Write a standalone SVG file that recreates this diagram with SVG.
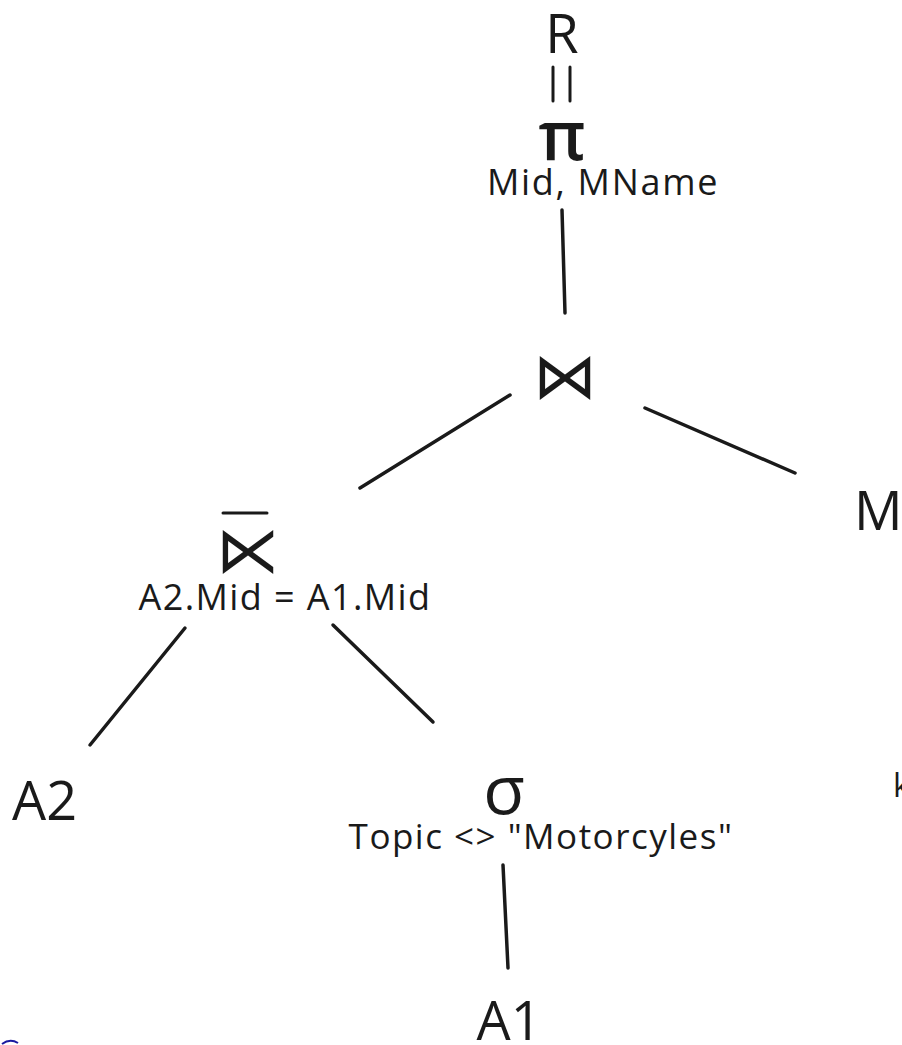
<svg xmlns="http://www.w3.org/2000/svg" width="902" height="1045" viewBox="0 0 902 1045">
<style>
.big{font-family:"Open Sans","Noto Sans",sans-serif;font-size:54px;fill:#1a1a1a}
.lbl{font-family:"Open Sans","Noto Sans",sans-serif;font-size:36px;letter-spacing:1.5px;fill:#1a1a1a}
.sym{font-family:"DejaVu Sans",sans-serif;font-size:64px;fill:#1a1a1a}
.edge{stroke:#1a1a1a;stroke-width:3.5;stroke-linecap:round;fill:none}
</style>
<rect width="902" height="1045" fill="#ffffff"/>
<g id="connectors">
<line class="edge" x1="553" y1="67" x2="553" y2="101" style="stroke-width:3"/>
<line class="edge" x1="570" y1="67" x2="570" y2="101" style="stroke-width:3"/>
<line class="edge" x1="562" y1="210" x2="565" y2="313"/>
<line class="edge" x1="360" y1="488" x2="510" y2="395"/>
<line class="edge" x1="645" y1="408" x2="795" y2="473"/>
<line class="edge" x1="185" y1="628" x2="90" y2="745"/>
<line class="edge" x1="333" y1="625" x2="433" y2="722"/>
<line class="edge" x1="503" y1="865" x2="508" y2="968"/>
</g>
<g id="node-R"><text class="big" x="562" y="53" text-anchor="middle">R</text></g>
<g id="node-projection">
<text class="big" x="562" y="160" text-anchor="middle" style="font-size:68px;font-weight:600">π</text>
<text class="lbl" x="603" y="195" text-anchor="middle" style="letter-spacing:1.7px">Mid, MName</text>
</g>
<g id="node-join"><text class="sym" x="565" y="398" text-anchor="middle">⋈</text></g>
<g id="node-M"><text class="big" x="854" y="530">M</text></g>
<g id="node-antijoin">
<line class="edge" x1="223" y1="513" x2="267" y2="513" style="stroke-width:3"/>
<text class="sym" x="248" y="572" text-anchor="middle">⋉</text>
<text class="lbl" x="285" y="610" text-anchor="middle" style="letter-spacing:1.4px">A2.Mid = A1.Mid</text>
</g>
<g id="node-A2"><text class="big" x="12" y="820">A2</text></g>
<g id="node-select">
<text class="big" x="504" y="814" text-anchor="middle" style="font-size:68px">σ</text>
<text class="lbl" x="541" y="849" text-anchor="middle" style="font-size:35px">Topic &lt;&gt; "Motorcyles"</text>
</g>
<g id="node-A1"><text class="big" x="509" y="1040" text-anchor="middle">A1</text></g>
<g id="node-k"><text class="lbl" x="893" y="797" style="font-size:32px">k</text></g>
<g id="node-blue"><path d="M2,1044 Q10,1038 18,1043" stroke="#1a1aa0" stroke-width="2" fill="none"/></g>
</svg>
